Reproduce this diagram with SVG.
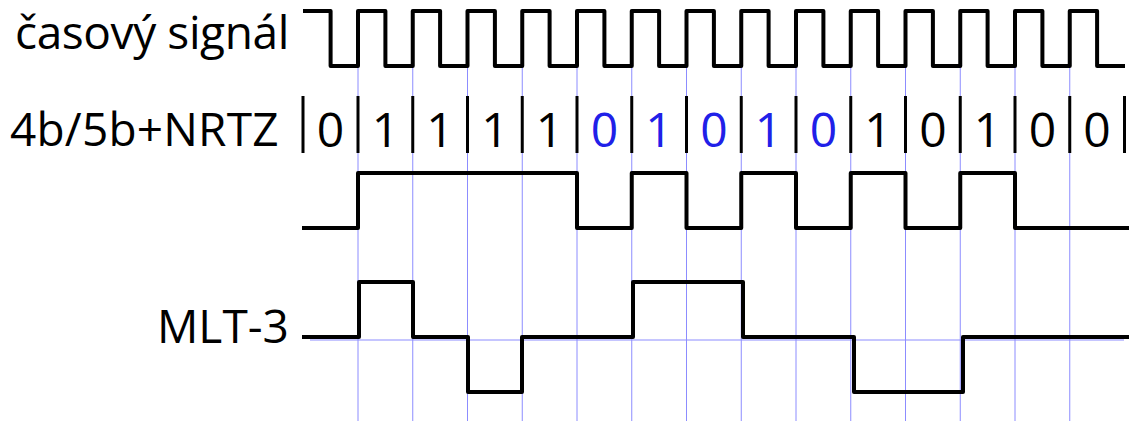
<svg xmlns="http://www.w3.org/2000/svg" width="1129" height="421" viewBox="0 0 1129 421">
<style>
.lbl{font-family:"Open Sans","Noto Sans","Liberation Sans",sans-serif;font-size:46px;fill:#000}
.bit{font-family:"Open Sans","Noto Sans","Liberation Sans",sans-serif;font-size:48px;text-anchor:middle;fill:#000}
.blue{fill:#2020e8}
.grid{stroke:#8c8cff;stroke-width:1;fill:none}
.wave{stroke:#000;stroke-width:4;fill:none;stroke-linejoin:round;stroke-linecap:butt}
.sep{stroke:#000;stroke-width:3}
</style>
<rect width="1129" height="421" fill="#fff"/>
<g id="grid">
<path class="grid" d="M358 66V421M412.75 66V421M467.5 66V421M522.25 66V421M577 66V421M631.75 66V421M686.5 66V421M741.25 66V421M796 66V421M850.75 66V421M905.5 66V421M960.25 66V421M1015 66V421M1069.75 66V421M310 340H1124"/>
</g>
<g id="labels">
<text class="lbl" x="15" y="49" letter-spacing="-0.4">časový signál</text>
<text class="lbl" x="10" y="146" letter-spacing="0.2">4b/5b+NRTZ</text>
<text class="lbl" x="157" y="343">MLT-3</text>
</g>
<g id="clock">
<path class="wave" d="M303 11H330.6V66H358V11H385.4V66H412.75V11H440.1V66H467.5V11H494.9V66H522.25V11H549.6V66H577V11H604.4V66H631.75V11H659.1V66H686.5V11H713.9V66H741.25V11H768.6V66H796V11H823.4V66H850.75V11H878.1V66H905.5V11H932.9V66H960.25V11H987.6V66H1015V11H1042.4V66H1069.75V11H1097.1V66H1125"/>
</g>
<g id="bits">
<path class="sep" d="M303 96V153M358 96V153M412.75 96V153M467.5 96V153M522.25 96V153M577 96V153M631.75 96V153M686.5 96V153M741.25 96V153M796 96V153M850.75 96V153M905.5 96V153M960.25 96V153M1015 96V153M1069.75 96V153M1124.5 96V153"/>
<text class="bit" x="330.5" y="147">0</text>
<text class="bit" x="385.4" y="147">1</text>
<text class="bit" x="440.1" y="147">1</text>
<text class="bit" x="494.9" y="147">1</text>
<text class="bit" x="549.6" y="147">1</text>
<text class="bit blue" x="604.4" y="147">0</text>
<text class="bit blue" x="659.1" y="147">1</text>
<text class="bit blue" x="713.9" y="147">0</text>
<text class="bit blue" x="768.6" y="147">1</text>
<text class="bit blue" x="823.4" y="147">0</text>
<text class="bit" x="878.1" y="147">1</text>
<text class="bit" x="932.9" y="147">0</text>
<text class="bit" x="987.6" y="147">1</text>
<text class="bit" x="1042.4" y="147">0</text>
<text class="bit" x="1097.1" y="147">0</text>
</g>
<g id="nrz">
<path class="wave" d="M302 228H358V173H577V228H631.75V173H686.5V228H741.25V173H796V228H850.75V173H905.5V228H960.25V173H1015V228H1129"/>
</g>
<g id="mlt3">
<path class="wave" d="M302 337H359V282H413V337H468V392H522V337H633V282H743V337H854V392H963V337H1129"/>
</g>
</svg>
